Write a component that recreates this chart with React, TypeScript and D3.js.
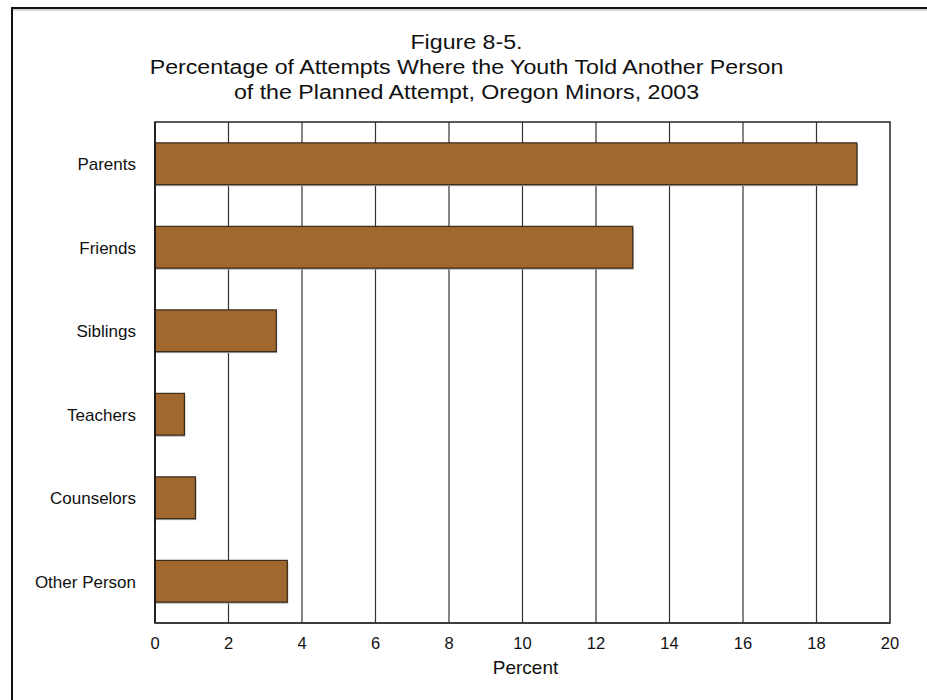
import React from "react";
import * as d3 from "d3";

const categories = ["Parents", "Friends", "Siblings", "Teachers", "Counselors", "Other Person"];
const values = [19.1, 13.0, 3.3, 0.8, 1.1, 3.6];
const xTicks = [0, 2, 4, 6, 8, 10, 12, 14, 16, 18, 20];
const titleLines = [
  "Figure 8-5.",
  "Percentage of Attempts Where the Youth Told Another Person",
  "of the Planned Attempt, Oregon Minors, 2003",
];

const W = 927, H = 700;
const left = 155, right = 890, top = 122, bottom = 623;

export default function App() {
  const x = d3.scaleLinear().domain([0, 20]).range([left, right]);
  const y = d3.scaleBand().domain(categories).range([top, bottom]).paddingInner(0.5).paddingOuter(0.25);
  const font = "Arial, 'Liberation Sans', sans-serif";
  const cx = 466.5;
  return (
    <svg width={W} height={H} style={{ position: "absolute", left: 0, top: 0, background: "#fff" }} fontFamily={font}>
      <rect x={0} y={0} width={W} height={H} fill="#fff" />
      <line x1={12} y1={8} x2={W} y2={8} stroke="#111" strokeWidth={2} />
      <line x1={13} y1={10} x2={W} y2={10} stroke="#aaa" strokeWidth={1} />
      <line x1={12} y1={7} x2={12} y2={H} stroke="#111" strokeWidth={2} />
      <g transform={`translate(${cx},0) scale(1.16,1)`}>
        {titleLines.map((t, i) => (
          <text key={i} x={0} y={49 + i * 25} textAnchor="middle" fontSize={20} fill="#111">{t}</text>
        ))}
      </g>
      <rect x={left} y={top} width={right - left} height={bottom - top} fill="#fff" stroke="#222" strokeWidth={1.5} />
      {xTicks.slice(1, -1).map((t) => (
        <line key={t} x1={x(t)} x2={x(t)} y1={top} y2={bottom} stroke="#333" strokeWidth={1.2} />
      ))}
      {categories.map((c, i) => (
        <g key={c}>
          <rect x={x(0) + 1} y={y(c)! + 1.5} width={x(values[i]) - x(0)} height={y.bandwidth()} fill="#aaa" />
          <rect x={x(0)} y={y(c)!} width={x(values[i]) - x(0)} height={y.bandwidth()} fill="#A0672F" stroke="#3a2a1a" strokeWidth={1.2} />
          <text x={136} y={y(c)! + y.bandwidth() / 2 + 1} textAnchor="end" dominantBaseline="central" fontSize={17} fill="#111">{c}</text>
        </g>
      ))}
      <line x1={left} x2={left} y1={top} y2={bottom} stroke="#111" strokeWidth={1.5} />
      <line x1={left} x2={right} y1={bottom} y2={bottom} stroke="#333" strokeWidth={1.5} />
      {xTicks.map((t) => (
        <text key={t} x={x(t)} y={649} textAnchor="middle" fontSize={16.5} fill="#111">{t}</text>
      ))}
      <text x={x(10) + 3} y={674} textAnchor="middle" fontSize={19} fill="#111">Percent</text>
    </svg>
  );
}
